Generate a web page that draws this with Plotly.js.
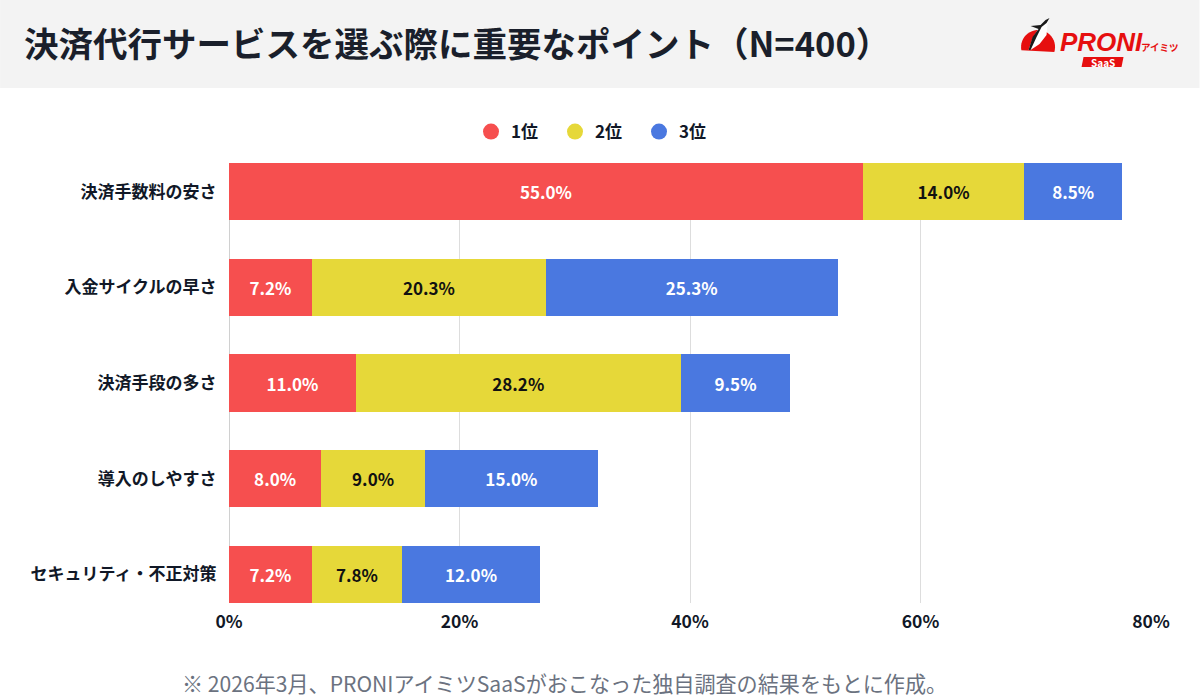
<!DOCTYPE html>
<html><head><meta charset="utf-8">
<script src="https://cdn.plot.ly/plotly-3.0.1.min.js"></script>
<style>html,body{margin:0;padding:0;background:#fff}</style></head>
<body><div id="chart" style="width:1200px;height:700px"></div>
<script>
const categories = ["決済手数料の安さ","入金サイクルの早さ","決済手段の多さ","導入のしやすさ","セキュリティ・不正対策"];
const rank1 = [55.0,7.2,11.0,8.0,7.2];
const rank2 = [14.0,20.3,28.2,9.0,7.8];
const rank3 = [8.5,25.3,9.5,15.0,12.0];
const seriesNames = ["1位","2位","3位"];
const seriesColors = ["#f64f4f","#e6d839","#4a78e0"];
const labelColors = ["#ffffff","#111111","#ffffff"];
const xTicks = [0,20,40,60,80];
const FONT = '"Noto Sans CJK JP","Noto Sans",sans-serif';
const L=229,R=1151.5,T=163,B=603,W=1200,H=700;
const px = x => (x-L)/(R-L);
const py = y => 1-(y-T)/(B-T);
const path = pts => pts.map((p,i)=>(i?'L':'M')+px(p[0]).toFixed(5)+' '+py(p[1]).toFixed(5)).join(' ')+' Z';

const bars = [rank1,rank2,rank3].map((v,i)=>({
  type:'bar',orientation:'h',y:categories,x:v,name:seriesNames[i],showlegend:false,
  marker:{color:seriesColors[i],line:{width:0}},
  texttemplate:'%{x:.1f}%',textposition:'inside',insidetextanchor:'middle',textangle:0,
  insidetextfont:{family:FONT,size:17,weight:700,color:labelColors[i]},
  hoverinfo:'x+y+name'
}));
const legendTraces = seriesNames.map((n,i)=>({
  type:'scatter',mode:'markers',x:[null],y:[null],name:n,showlegend:true,
  marker:{color:seriesColors[i],size:16,symbol:'circle'}
}));
// ロゴの半円
const dome=[];
for(let a=-17;a<=197;a+=8){dome.push([1038.5+17*Math.cos(a*Math.PI/180),47-17*Math.sin(a*Math.PI/180)]);}
const logoShape=(pts,color)=>({type:'path',xref:'paper',yref:'paper',path:path(pts),fillcolor:color,line:{width:0}});
const layout = {
  width:W,height:H,margin:{l:L,r:W-R,t:T,b:H-B},
  paper_bgcolor:'#ffffff',plot_bgcolor:'#ffffff',barmode:'stack',bargap:0.4,
  font:{family:FONT,color:'#111827'},
  title:{text:'決済代行サービスを選ぶ際に重要なポイント（N=400）',xref:'container',yref:'container',x:24/W,xanchor:'left',y:1-45/H,yanchor:'middle',
    font:{family:FONT,size:34.5,weight:700,color:'#1a1f2b'}},
  xaxis:{range:[0,80],tickvals:xTicks,ticktext:xTicks.map(v=>v+'%'),showgrid:true,gridcolor:'#dddddd',gridwidth:1,
    zeroline:true,zerolinecolor:'#d0d0d0',zerolinewidth:1,showline:false,ticks:'outside',ticklen:3,tickcolor:'rgba(0,0,0,0)',
    tickfont:{family:FONT,size:17.5,weight:700,color:'#111827'},automargin:false},
  yaxis:{type:'category',categoryorder:'array',categoryarray:categories,autorange:false,range:[4.3,-0.3],showgrid:false,zeroline:false,showline:false,
    ticks:'outside',ticklen:8,tickcolor:'rgba(0,0,0,0)',tickfont:{family:FONT,size:17,weight:700,color:'#111827'},automargin:false},
  legend:{orientation:'h',traceorder:'normal',xref:'container',yref:'container',x:471/W,xanchor:'left',y:1-132/H,yanchor:'middle',
    entrywidth:39,entrywidthmode:'pixels',itemclick:false,itemdoubleclick:false,
    font:{family:FONT,size:17,weight:700,color:'#111827'},bgcolor:'rgba(0,0,0,0)'},
  shapes:[
    {type:'rect',layer:'below',xref:'paper',yref:'paper',x0:px(0),x1:px(W),y0:py(0),y1:py(88),fillcolor:'#f3f3f3',line:{width:0}},
    logoShape(dome,'#e60f0f'),
    logoShape([[1029,50],[1033,38],[1040,27],[1046,20],[1050,18],[1048,23],[1047,35],[1040,44],[1031,50]],'#ffffff'),
    logoShape([[1029,50],[1033,37],[1039,29],[1031,26],[1041,25],[1046,20],[1050,18],[1047,23],[1042,27],[1037,37],[1031,50]],'#1a1a1a'),
    logoShape([[1084,57],[1124,57],[1122,67],[1082,67]],'#e60f0f')
  ],
  annotations:[
    {xref:'paper',yref:'paper',x:px(1058),y:py(41.5),xanchor:'left',yanchor:'middle',showarrow:false,text:'<b><i>PRONI</i></b>',font:{family:'"Liberation Sans",sans-serif',size:26,color:'#e60f0f'}},
    {xref:'paper',yref:'paper',x:px(1139),y:py(47),xanchor:'left',yanchor:'middle',showarrow:false,text:'アイミツ',font:{family:FONT,size:9.5,weight:700,color:'#e60f0f'}},
    {xref:'paper',yref:'paper',x:px(1103),y:py(62),xanchor:'center',yanchor:'middle',showarrow:false,text:'SaaS',font:{family:FONT,size:10,weight:700,color:'#ffffff'}},
    {xref:'paper',yref:'paper',x:px(565),y:py(683),xanchor:'center',yanchor:'middle',showarrow:false,
     text:'※ 2026年3月、PRONIアイミツSaaSがおこなった独自調査の結果をもとに作成。',font:{family:FONT,size:21.1,color:'#6b7280'}}
  ]
};
Plotly.newPlot('chart',bars.concat(legendTraces),layout,{displayModeBar:false,responsive:false});
</script></body></html>
